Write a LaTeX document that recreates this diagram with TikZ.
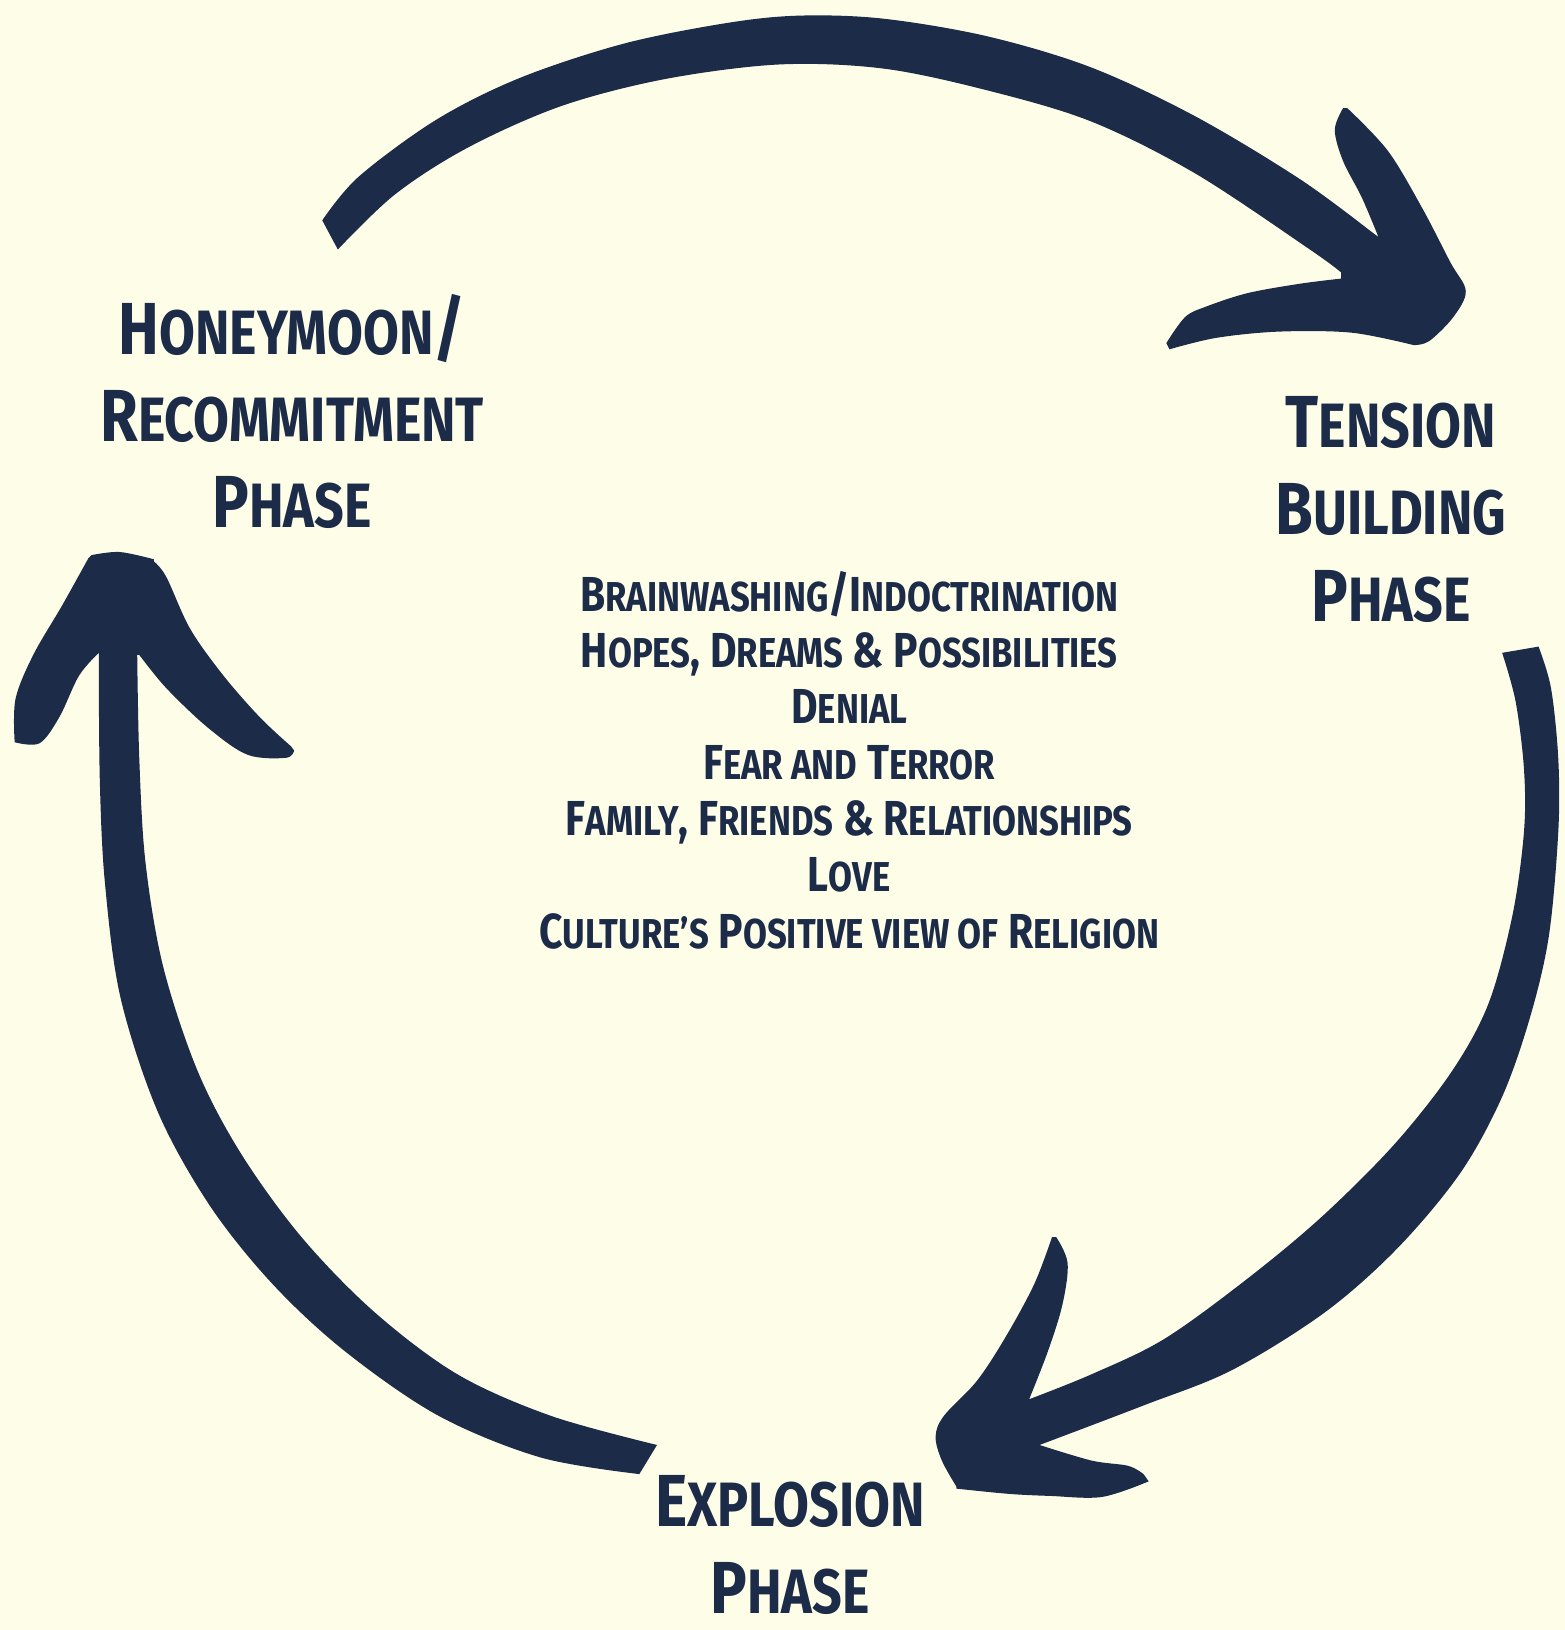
\documentclass[tikz,border=0pt]{standalone}
\usepackage{fontspec}
\newfontfamily\bebas[FakeStretch=0.83]{Fira Sans}
\definecolor{bg}{HTML}{FEFEE8}
\definecolor{ink}{HTML}{1B2B48}
\makeatletter
\newcommand\lw[1]{{\fontsize{\the\dimexpr\f@size pt*85/100\relax}{0pt}\selectfont\uppercase{#1}}}
\makeatother
\tikzset{
  phase/.style={text=ink, align=center, inner sep=0pt, font=\bebas\bfseries\fontsize{21}{24.7}\selectfont},
  listtext/.style={text=ink, align=center, inner sep=0pt, font=\bebas\bfseries\fontsize{14}{16.0}\selectfont},
  brush/.style={fill=ink},
  sm/.style={smooth, tension=0.55}
}
\begin{document}
\begin{tikzpicture}[x=0.0104cm, y=-0.0104cm]
\fill[bg] (0,0) rectangle (1505,1568);
\useasboundingbox (0,0) rectangle (1505,1568);

% top arrow
\fill[brush] (310,212)
 -- plot[sm] coordinates {(310,212) (345,170) (420,115) (500,75) (600,42) (700,22) (770,15) (850,18) (950,35) (1050,65) (1150,112) (1250,172) (1318,222)}
 -- plot[sm] coordinates {(1326,228) (1310,190) (1292,155) (1284,125) (1292,104)}
 -- plot[sm] coordinates {(1296,104) (1335,145) (1368,200) (1395,252) (1410,280) (1398,305) (1375,328) (1360,332)}
 -- plot[sm] coordinates {(1360,332) (1300,320) (1230,319) (1170,325) (1125,336)}
 -- plot[sm] coordinates {(1122,330) (1140,305) (1160,295) (1200,282) (1250,273) (1290,268)}
 -- plot[sm] coordinates {(1290,262) (1260,240) (1150,167) (1050,117) (950,87) (850,66) (750,62) (640,76) (540,102) (450,142) (380,187) (325,240)}
 -- cycle;

% right arrow
\fill[brush] (1445,628)
 -- plot[sm] coordinates {(1445,628) (1458,675) (1466,740) (1466,800) (1455,880) (1432,965) (1397,1030) (1342,1100) (1272,1170) (1200,1230) (1120,1288) (1050,1322) (990,1346)}
 -- plot[sm] coordinates {(990,1346) (1008,1300) (1022,1255) (1027,1215) (1016,1190)}
 -- plot[sm] coordinates {(1012,1190) (995,1235) (968,1285) (940,1328) (908,1362) (900,1382) (906,1405) (920,1430)}
 -- plot[sm] coordinates {(920,1432) (970,1437) (1010,1439) (1060,1440) (1105,1425)}
 -- plot[sm] coordinates {(1100,1418) (1085,1410) (1050,1405) (1000,1390)}
 -- plot[sm] coordinates {(1000,1390) (1100,1352) (1185,1318) (1275,1262) (1345,1200) (1405,1128) (1445,1055) (1472,978) (1490,900) (1499,800) (1499,730) (1492,662) (1480,622)}
 -- cycle;

% left arrow
\fill[brush] (632,1390)
 -- plot[sm] coordinates {(632,1390) (530,1362) (440,1322) (360,1262) (290,1190) (232,1110) (190,1030) (157,930) (140,830) (134,730) (132,630)}
 -- plot[sm] coordinates {(134,630) (160,662) (200,700) (238,726) (275,729) (283,722)}
 -- plot[sm] coordinates {(280,718) (250,690) (215,650) (183,605) (160,555) (148,540)}
 -- plot[sm] coordinates {(148,538) (115,531) (88,534)}
 -- plot[sm] coordinates {(85,537) (60,582) (32,630) (15,672) (14,712)}
 -- plot[sm] coordinates {(14,714) (38,715) (57,690) (76,650) (95,628)}
 -- plot[sm] coordinates {(95,628) (96,750) (101,850) (116,960) (152,1070) (202,1160) (262,1235) (332,1300) (422,1362) (520,1402) (615,1418)}
 -- cycle;

\node[phase] (honey) at (281,396) {H\lw{oneymoon}/\\R\lw{ecommitment}\\P\lw{hase}};
\node[phase] (tension) at (1338,490) {T\lw{ension}\\B\lw{uilding}\\P\lw{hase}};
\node[phase] (explosion) at (760,1486) {E\lw{xplosion}\\P\lw{hase}};
\node[listtext] (factors) at (817,731) {B\lw{rainwashing}/I\lw{ndoctrination}\\
H\lw{opes}, D\lw{reams} \& P\lw{ossibilities}\\
D\lw{enial}\\
F\lw{ear and} T\lw{error}\\
F\lw{amily}, F\lw{riends} \& R\lw{elationships}\\
L\lw{ove}\\
C\lw{ulture’s} P\lw{ositive view of} R\lw{eligion}};
\end{tikzpicture}
\end{document}
